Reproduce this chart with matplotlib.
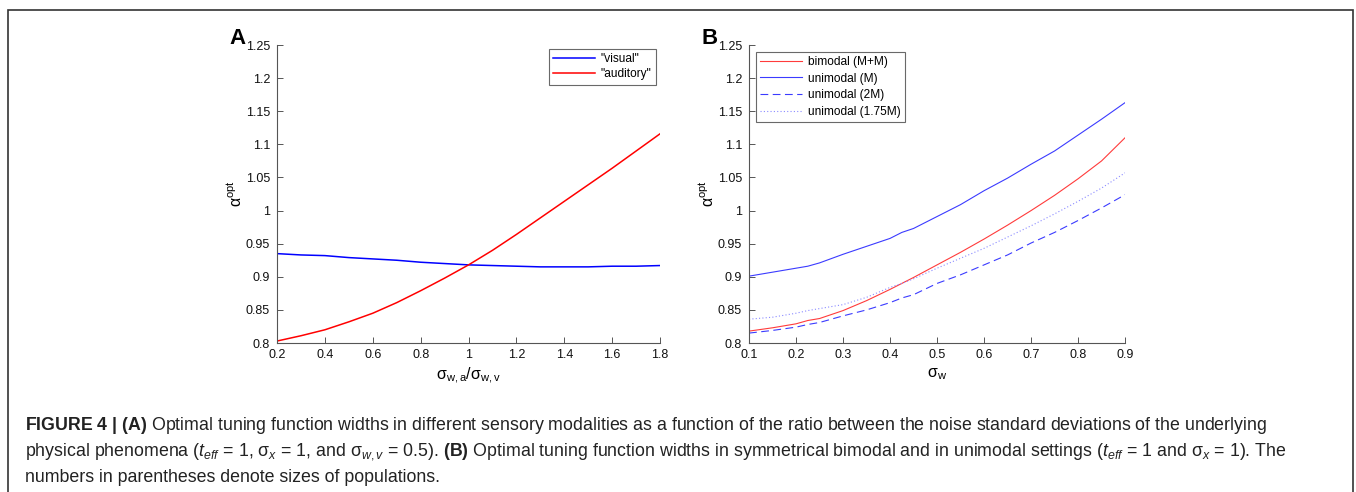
import matplotlib
matplotlib.use("Agg")
import matplotlib.pyplot as plt
from matplotlib import font_manager
from matplotlib.patches import Rectangle

# panel A: optimal width vs ratio of noise std devs
ratio = [0.2, 0.3, 0.4, 0.5, 0.6, 0.7, 0.8, 0.9, 1.0, 1.1, 1.2, 1.3, 1.4, 1.5, 1.6, 1.7, 1.8]
visual = [0.935, 0.933, 0.932, 0.929, 0.927, 0.925, 0.922, 0.920, 0.918, 0.917, 0.916,
          0.915, 0.915, 0.915, 0.916, 0.916, 0.917]
auditory = [0.803, 0.811, 0.820, 0.832, 0.845, 0.861, 0.879, 0.898, 0.918, 0.940, 0.964,
            0.989, 1.014, 1.039, 1.064, 1.090, 1.116]

# panel B: optimal width vs sigma_w
sigma_w = [0.1, 0.15, 0.2, 0.225, 0.25, 0.3, 0.35, 0.4, 0.425, 0.45, 0.5, 0.55, 0.6,
           0.65, 0.7, 0.75, 0.8, 0.85, 0.9]
bimodal_MM = [0.818, 0.823, 0.829, 0.834, 0.837, 0.849, 0.864, 0.881, 0.890, 0.899, 0.918,
              0.937, 0.957, 0.978, 1.000, 1.023, 1.048, 1.075, 1.110]
unimodal_M = [0.901, 0.907, 0.913, 0.916, 0.921, 0.934, 0.946, 0.958, 0.967, 0.973, 0.991,
              1.009, 1.030, 1.049, 1.070, 1.090, 1.114, 1.138, 1.163]
unimodal_2M = [0.815, 0.819, 0.824, 0.828, 0.831, 0.841, 0.850, 0.861, 0.868, 0.873, 0.890,
               0.903, 0.918, 0.933, 0.951, 0.967, 0.985, 1.004, 1.024]
unimodal_175M = [0.836, 0.839, 0.845, 0.849, 0.852, 0.858, 0.869, 0.884, 0.890, 0.897, 0.913,
                 0.928, 0.943, 0.960, 0.977, 0.995, 1.014, 1.034, 1.057]

yticks = [0.8, 0.85, 0.9, 0.95, 1, 1.05, 1.1, 1.15, 1.2, 1.25]
ytick_labels = ["0.8", "0.85", "0.9", "0.95", "1", "1.05", "1.1", "1.15", "1.2", "1.25"]

names = set(f.name for f in font_manager.fontManager.ttflist)
cap_font = "Liberation Sans Narrow" if "Liberation Sans Narrow" in names else "Liberation Sans"
cap_size = 15.2 if cap_font == "Liberation Sans Narrow" else 12.8

plt.rcParams["font.family"] = ["Liberation Sans", "DejaVu Sans"]
plt.rcParams["mathtext.fontset"] = "custom"
plt.rcParams["mathtext.rm"] = cap_font
plt.rcParams["mathtext.it"] = cap_font + ":italic"
plt.rcParams["mathtext.bf"] = cap_font + ":bold"
plt.rcParams["mathtext.sf"] = "Liberation Sans"

fig = plt.figure(figsize=(13.56, 4.92), dpi=100)

axA = fig.add_axes([0.2043, 0.3028, 0.2825, 0.6057])
axB = fig.add_axes([0.5524, 0.3028, 0.2773, 0.6057])

axA.plot(ratio, visual, color="#0000ff", lw=1.1, label='"visual"')
axA.plot(ratio, auditory, color="#ff0000", lw=1.1, label='"auditory"')
axA.set_xlim(0.2, 1.8)
axA.set_xticks([0.2, 0.4, 0.6, 0.8, 1.0, 1.2, 1.4, 1.6, 1.8])
axA.set_xticklabels(["0.2", "0.4", "0.6", "0.8", "1", "1.2", "1.4", "1.6", "1.8"])
axA.set_xlabel(r"σ$_{\mathsf{w,a}}$/σ$_{\mathsf{w,v}}$", fontsize=11.5, labelpad=4)

axB.plot(sigma_w, bimodal_MM, color="#ff3b3b", lw=0.8, label="bimodal (M+M)")
axB.plot(sigma_w, unimodal_M, color="#3b3bff", lw=0.8, label="unimodal (M)")
axB.plot(sigma_w, unimodal_2M, color="#3b3bff", lw=0.8, ls=(0, (7, 4)), label="unimodal (2M)")
axB.plot(sigma_w, unimodal_175M, color="#8a8aff", lw=0.8, ls=(0, (1, 2)), label="unimodal (1.75M)")
axB.set_xlim(0.1, 0.9)
axB.set_xticks([0.1, 0.2, 0.3, 0.4, 0.5, 0.6, 0.7, 0.8, 0.9])
axB.set_xticklabels(["0.1", "0.2", "0.3", "0.4", "0.5", "0.6", "0.7", "0.8", "0.9"])
axB.set_xlabel(r"σ$_{\mathsf{w}}$", fontsize=11.5, labelpad=4)

for ax in (axA, axB):
    ax.set_ylim(0.8, 1.25)
    ax.set_yticks(yticks)
    ax.set_yticklabels(ytick_labels)
    ax.set_ylabel(r"α$^{\mathsf{opt}}$", fontsize=11.5, labelpad=1)
    ax.spines["top"].set_visible(False)
    ax.spines["right"].set_visible(False)
    for s in ("left", "bottom"):
        ax.spines[s].set_color("#555555")
        ax.spines[s].set_linewidth(0.8)
    ax.tick_params(direction="in", length=4, width=0.7, color="#555555",
                   labelsize=9, labelcolor="#111111")
    ax.tick_params(axis="y", pad=5)
    ax.tick_params(axis="x", pad=4)

legA = axA.legend(loc="upper right", fontsize=8.6, frameon=True, fancybox=False,
                  edgecolor="#444444", handlelength=3.5, borderpad=0.35,
                  labelspacing=0.25, handletextpad=0.5, borderaxespad=0.35)
legA.get_frame().set_linewidth(0.8)
legB = axB.legend(loc="upper left", fontsize=8.6, frameon=True, fancybox=False,
                  edgecolor="#444444", handlelength=3.5, borderpad=0.35,
                  labelspacing=0.4, handletextpad=0.5, borderaxespad=0.55)
legB.get_frame().set_linewidth(0.8)

fig.text(238 / 1356, 1 - 38 / 492, "A", fontsize=16, fontweight="bold", va="center", ha="center")
fig.text(710 / 1356, 1 - 38 / 492, "B", fontsize=16, fontweight="bold", va="center", ha="center")

# outer frame of the figure panel
fig.patches.append(Rectangle((8 / 1356, -0.2), (1353 - 8) / 1356, 1.2 - 10 / 492,
                             transform=fig.transFigure, fill=False,
                             edgecolor="#333333", lw=1.2))

cap_lines = [
    r"$\mathbf{FIGURE\ 4\ |\ (A)}$ Optimal tuning function widths in different sensory modalities as a function of the ratio between the noise standard deviations of the underlying",
    r"physical phenomena ($t_{eff}$ = 1, σ$_{x}$ = 1, and σ$_{w,v}$ = 0.5). $\mathbf{(B)}$ Optimal tuning function widths in symmetrical bimodal and in unimodal settings ($t_{eff}$ = 1 and σ$_{x}$ = 1). The",
    "numbers in parentheses denote sizes of populations.",
]
cap_y = [425, 452, 478]
for line, y in zip(cap_lines, cap_y):
    fig.text(25 / 1356, 1 - y / 492, line, fontsize=cap_size, family=cap_font,
             color="#222222", va="center", ha="left")

fig.savefig("out.png", dpi=100)
